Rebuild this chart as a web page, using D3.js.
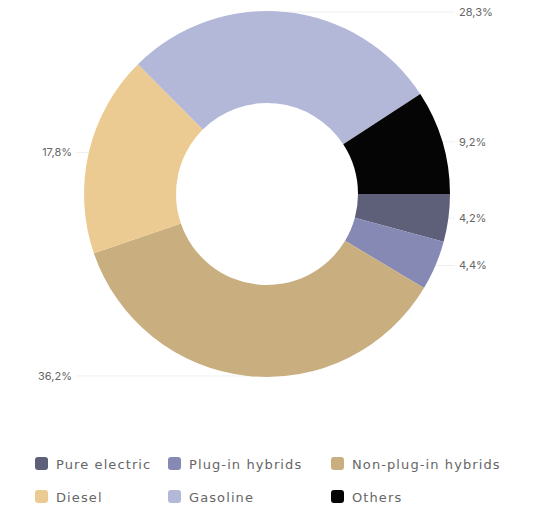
<!DOCTYPE html>
<html>
<head>
<meta charset="utf-8">
<script src="https://cdn.jsdelivr.net/npm/d3@7"></script>
<style>
  html, body { margin: 0; padding: 0; background: #fff; }
  svg { display: block; }
  text { font-family: Inter, "Noto Sans", sans-serif; }
  .legend text { font-family: "DejaVu Sans", sans-serif; letter-spacing: 1.1px; }
</style>
</head>
<body>
<svg id="chart" width="537" height="509"></svg>
<script>
// Vehicle share by powertrain
const categories = ["Pure electric", "Plug-in hybrids", "Non-plug-in hybrids", "Diesel", "Gasoline", "Others"];
const shares = [4.2, 4.4, 36.2, 17.8, 28.3, 9.2];
const valueLabels = ["4,2%", "4,4%", "36,2%", "17,8%", "28,3%", "9,2%"];
const colors = ["#5e5f79", "#8689b3", "#c9ae80", "#eccb93", "#b4b8d8", "#050505"];

const width = 537, height = 509;
const cx = 267, cy = 194;
const outerR = 183, innerR = 91;

const svg = d3.select("#chart");
const g = svg.append("g").attr("transform", `translate(${cx},${cy})`);

const data = categories.map((c, i) => ({ name: c, value: shares[i], label: valueLabels[i], color: colors[i] }));

// Slices run clockwise, starting at 3 o'clock
const pie = d3.pie()
  .value(d => d.value)
  .sort(null)
  .startAngle(Math.PI / 2)
  .endAngle(Math.PI / 2 + 2 * Math.PI);

const arc = d3.arc().innerRadius(innerR).outerRadius(outerR);
const arcs = pie(data);

// Faint leader lines from the rim to the value labels
const leftX = 72 - cx, rightX = 459 - cx;
arcs.forEach(a => {
  const mid = (a.startAngle + a.endAngle) / 2;
  const x = outerR * Math.sin(mid);
  const y = -outerR * Math.cos(mid);
  const right = Math.sin(mid) >= 0;
  const endX = right ? rightX - 4 : leftX + 4;
  a.lx = x; a.ly = y; a.right = right;
  g.append("line")
    .attr("x1", x).attr("y1", y)
    .attr("x2", endX).attr("y2", y)
    .attr("stroke", "#f0f0f0")
    .attr("stroke-width", 1);
});

g.selectAll("path.slice")
  .data(arcs)
  .join("path")
  .attr("class", "slice")
  .attr("d", arc)
  .attr("fill", d => d.data.color);

g.selectAll("text.val")
  .data(arcs)
  .join("text")
  .attr("class", "val")
  .attr("x", d => d.right ? rightX : leftX)
  .attr("y", d => d.ly)
  .attr("dy", "0.35em")
  .attr("text-anchor", d => d.right ? "start" : "end")
  .attr("font-size", 11)
  .attr("fill", "#666666")
  .text(d => d.data.label);

// Legend: three columns, two rows
const colX = [35, 168, 331];
const rowY = [464, 497];
const legend = svg.append("g").attr("class", "legend");
data.forEach((d, i) => {
  const col = i % 3, row = Math.floor(i / 3);
  const item = legend.append("g").attr("transform", `translate(${colX[col]},${rowY[row]})`);
  item.append("rect")
    .attr("x", 0).attr("y", -7)
    .attr("width", 13).attr("height", 13)
    .attr("rx", 3)
    .attr("fill", d.color);
  item.append("text")
    .attr("x", 21).attr("y", 0)
    .attr("dy", "0.35em")
    .attr("font-size", 13)
    .attr("fill", "#666666")
    .text(d.name);
});
</script>
</body>
</html>
